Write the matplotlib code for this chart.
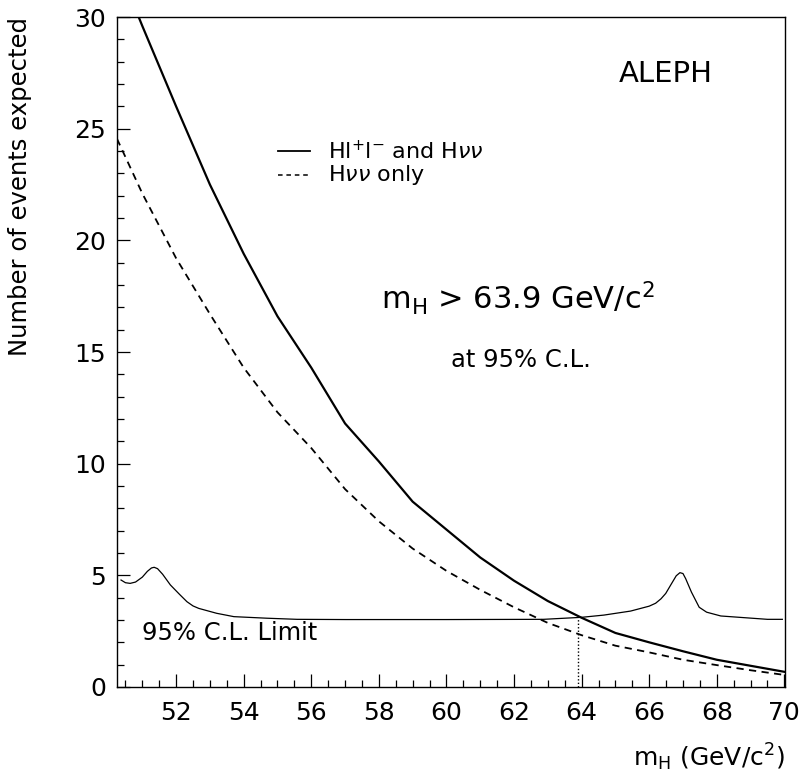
import numpy as np
import matplotlib
matplotlib.use("Agg")
import matplotlib.pyplot as plt
from matplotlib.ticker import MultipleLocator

plt.rcParams["font.family"] = "DejaVu Sans"
plt.rcParams["mathtext.fontset"] = "dejavusans"

# ── data ────────────────────────────────────────────────────────────────────
mh_both = [50.25, 51, 52, 53, 54, 55, 56, 57, 58, 59, 60, 61, 62, 63, 64,
           65, 66, 67, 68, 69, 70]
n_both = [32.4, 29.6, 26.0, 22.5, 19.4, 16.6, 14.3, 11.8, 10.1, 8.3, 7.05,
          5.8, 4.76, 3.85, 3.1, 2.42, 2.0, 1.6, 1.22, 0.95, 0.68]

mh_nunu = [50.25, 51, 52, 53, 54, 55, 56, 57, 58, 59, 60, 61, 62, 63, 64,
           65, 66, 67, 68, 69, 70]
n_nunu = [24.55, 22.1, 19.2, 16.7, 14.3, 12.3, 10.7, 8.86, 7.42, 6.2, 5.2,
          4.35, 3.57, 2.87, 2.32, 1.85, 1.55, 1.22, 0.98, 0.75, 0.54]

mh_limit = [50.37, 50.5, 50.64, 50.8, 51.0, 51.15, 51.27, 51.35, 51.45, 51.6,
            51.83, 52.1, 52.32, 52.5, 52.67, 53.2, 53.71, 54.69, 55.58, 57, 60,
            62.87, 64.0, 64.66, 65.45, 66.0, 66.19, 66.35, 66.49, 66.65, 66.8,
            66.91, 67.0, 67.08, 67.25, 67.48, 67.7, 68.12, 69.5, 69.94]
n_limit = [4.79, 4.67, 4.64, 4.7, 4.92, 5.18, 5.33, 5.36, 5.3, 5.05,
           4.57, 4.15, 3.82, 3.63, 3.52, 3.3, 3.15, 3.08, 3.03, 3.02, 3.02,
           3.03, 3.12, 3.22, 3.40, 3.62, 3.75, 3.95, 4.19, 4.6, 4.98,
           5.12, 5.08, 4.85, 4.25, 3.57, 3.35, 3.18, 3.03, 3.03]

mh_cut = 63.9
n_cut = 3.1

fig = plt.figure(figsize=(8.04, 7.76), dpi=100)
ax = fig.add_axes([0.1455, 0.1147, 0.8309, 0.8633])

ax.plot(mh_both, n_both, color="black", lw=1.6)
ax.plot(mh_nunu, n_nunu, color="black", lw=1.3, ls=(0, (4, 3)))
ax.plot(mh_limit, n_limit, color="black", lw=0.9)
ax.plot([mh_cut, mh_cut], [0, n_cut], color="black", lw=1.0, ls=(0, (1, 1.5)))

ax.set_xlim(50.25, 70.02)
ax.set_ylim(0, 30)

ax.xaxis.set_major_locator(MultipleLocator(2))
ax.xaxis.set_minor_locator(MultipleLocator(0.5))
ax.yaxis.set_major_locator(MultipleLocator(5))
ax.yaxis.set_minor_locator(MultipleLocator(1))
ax.tick_params(which="both", direction="in", top=False, right=False,
               width=0.9, labelsize=18, pad=10)
ax.tick_params(which="major", length=9.5)
ax.tick_params(which="minor", length=5)
ax.tick_params(axis="y", pad=8)
for s in ax.spines.values():
    s.set_linewidth(1.0)

ax.set_xlabel(r"m$_{\mathregular{H}}$ (GeV/c$^2$)", fontsize=18, loc="right", labelpad=12)
ax.set_ylabel("Number of events expected", fontsize=17.5, loc="top")
ax.yaxis.set_label_coords(-0.127, 1.0)

# legend drawn by hand to match the original layout
ax.plot([50.25 + (278 - 117) / 33.75, 50.25 + (310 - 117) / 33.75], [24.0, 24.0],
        color="black", lw=1.3)
ax.plot([50.25 + (278 - 117) / 33.75, 50.25 + (310 - 117) / 33.75], [22.95, 22.95],
        color="black", lw=1.1, ls=(0, (3, 2.5)))
ax.text(56.5, 24.0, r"Hl$^{+}$l$^{-}$ and H$\nu\nu$", fontsize=16, va="center")
ax.text(56.5, 22.95, r"H$\nu\nu$ only", fontsize=16, va="center")

ax.text(66.49, 27.45, "ALEPH", fontsize=21, ha="center", va="center")
ax.text(62.1, 17.4, r"m$_{\mathregular{H}}$ > 63.9 GeV/c$^2$", fontsize=22,
        ha="center", va="center")
ax.text(62.2, 14.65, "at 95% C.L.", fontsize=17.5, ha="center", va="center")
ax.text(51.0, 2.4, "95% C.L. Limit", fontsize=17.5, ha="left", va="center")

fig.savefig("out.png", dpi=100)
